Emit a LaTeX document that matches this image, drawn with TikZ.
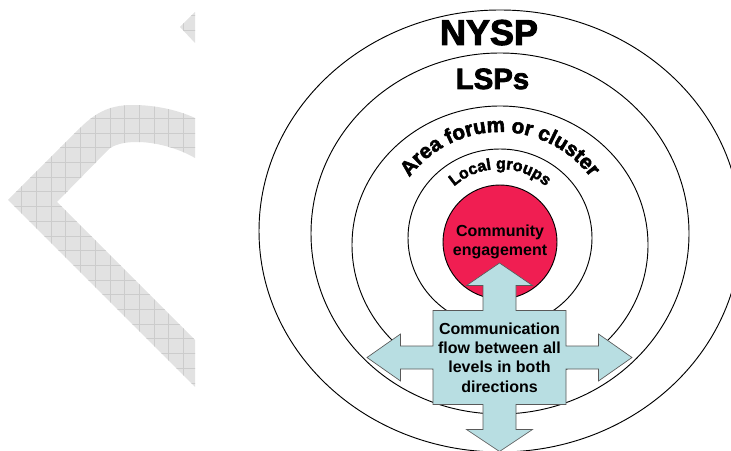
\documentclass[tikz,border=0pt]{standalone}
\usepackage{fontspec}
\setmainfont{Liberation Sans}
\newfontfamily\heavyfont[FakeBold=2.6]{Liberation Sans}
\usetikzlibrary{shapes.geometric, decorations.text}

\definecolor{corered}{RGB}{240,30,82}
\definecolor{flowblue}{RGB}{184,222,226}
\definecolor{markgray}{RGB}{226,226,226}
\definecolor{gridgray}{RGB}{204,204,204}

% outline of the grey watermark
\newcommand{\wmarkpath}{(8,250) -- (80,322) .. controls (98,340) and (113,345) .. (133,345)
    .. controls (155,345) and (178,340) .. (195,332) -- (195,292)
    .. controls (178,302) and (155,308) .. (137,308) .. controls (125,308) and (117,306) .. (110,302)
    -- (57,248) -- (195,110) -- (195,63) -- cycle
    (180,423) -- (195,438) -- (195,407) -- cycle}

\begin{document}
\begin{tikzpicture}[x=0.75pt, y=0.75pt,
        ring/.style={ellipse, draw, line width=0.7pt, inner sep=0pt},
        bigword/.style={font=\heavyfont\bfseries\fontsize{#1}{#1}\selectfont, inner sep=0pt, anchor=base},
        arcword/.style 2 args={decorate, decoration={text along path, text align=center,
            text={|\heavyfont\bfseries\fontsize{#1}{#1}\selectfont|#2}}},
        boxtext/.style={font=\bfseries\fontsize{12}{14.6}\selectfont, align=center, inner sep=0pt}]
        \useasboundingbox (0,0) rectangle (731,450);

        % Grey watermark on the left, cut at the page edge
        \fill[markgray] \wmarkpath;
        \begin{scope}
            \clip \wmarkpath;
            \foreach \k in {0,...,12} \draw[gridgray, line width=0.5pt] ({21.7+14.7*\k},0) -- ++(0,450);
            \foreach \k in {-7,...,19} \draw[gridgray, line width=0.5pt] (0,{331.7-14.7*\k}) -- ++(200,0);
        \end{scope}

        % Rings, outer to inner
        \node[ring, minimum width=361.5pt, minimum height=331.5pt] (ringnysp) at (500,219) {};
        \node[ring, minimum width=283.5pt, minimum height=270.75pt] (ringlsp) at (500,216.5) {};
        \node[ring, minimum width=222pt, minimum height=208.5pt] (ringarea) at (500,205) {};
        \node[ring, minimum width=138pt, minimum height=133.5pt] (ringlocal) at (500,212) {};
        \node[circle, draw, fill=corered, line width=0.7pt, minimum size=85.5pt, inner sep=0pt] (core) at (500,208) {};
        \node[boxtext] (coretext) at (core) {Community\\engagement};

        % Ring titles
        \node[bigword=27] (nysplabel) at (489,405) {NYSP};
        \node[bigword=22] (lsplabel) at (492.5,361) {LSPs};
        \path[arcword={15.5}{Area forum or cluster}] (500,205) ++(160:84.75pt) arc[start angle=160, end angle=20, radius=84.75pt];
        \path[arcword={12}{Local groups}] (500,212) ++(150:51.75pt) arc[start angle=150, end angle=30, radius=51.75pt];

        % Four way arrow
        \draw[fill=flowblue, draw=black!65, line width=0.5pt, shift={(499.5,92.5)}]
            (-66.5,47) -- (-16.5,47) -- (-16.5,72) -- (-33,72) -- (0,94.5) -- (33,72) -- (16.5,72) -- (16.5,47)
            -- (66.5,47) -- (66.5,11.5) -- (99,11.5) -- (99,23.5) -- (132.5,0) -- (99,-23.5) -- (99,-11.5) -- (66.5,-11.5)
            -- (66.5,-47) -- (16.5,-47) -- (16.5,-72) -- (33,-72) -- (0,-94) -- (-33,-72) -- (-16.5,-72) -- (-16.5,-47)
            -- (-66.5,-47) -- (-66.5,-11.5) -- (-99,-11.5) -- (-99,-23.5) -- (-132.5,0) -- (-99,23.5) -- (-99,11.5) -- (-66.5,11.5)
            -- cycle;
        \node[boxtext] (flowtext) at (499.5,92.5) {Communication\\flow between all\\levels in both\\directions};
\end{tikzpicture}
\end{document}
